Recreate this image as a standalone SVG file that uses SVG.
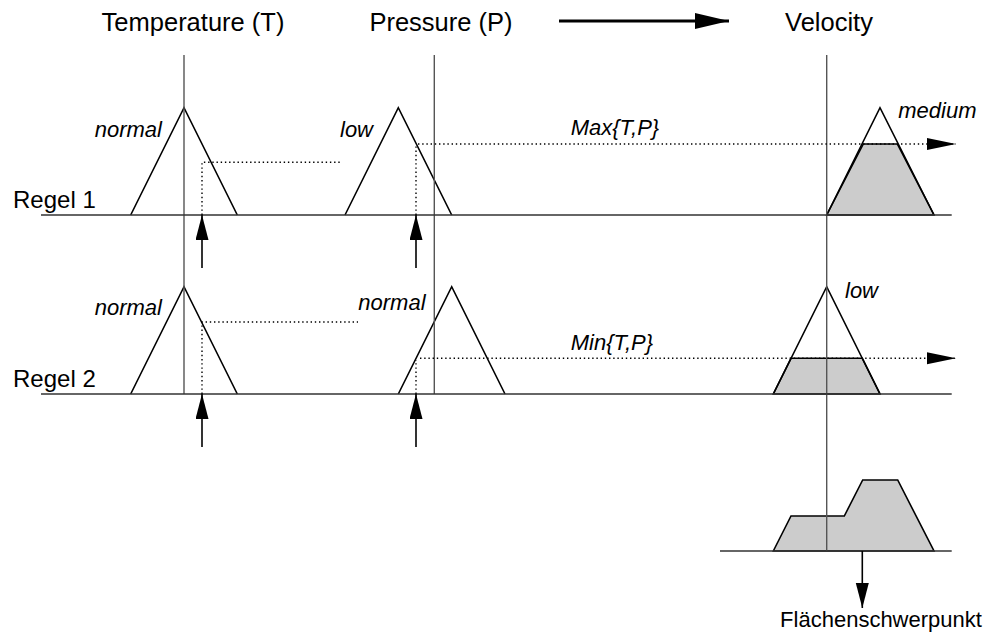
<svg xmlns="http://www.w3.org/2000/svg" width="987" height="635" viewBox="0 0 987 635">
<style>
text{font-family:"Liberation Sans",Arial,Helvetica,sans-serif;fill:#000}
.title{font-size:25.5px;text-anchor:middle}
.rule{font-size:24px}
.lab{font-size:22px;font-style:italic}
.axis{stroke:#555;stroke-width:1.4;fill:none}
.base{stroke:#333;stroke-width:1.3;fill:none}
.tri{stroke:#000;stroke-width:1.6;fill:none;stroke-linejoin:miter}
.fill{fill:#cccccc;stroke:#000;stroke-width:1.6;stroke-linejoin:miter}
.dot{stroke:#000;stroke-width:1.4;stroke-dasharray:1.4 2.8;fill:none}
.arr{stroke:#000;stroke-width:1.6;fill:none}
</style>
<defs>
<marker id="ah" markerUnits="userSpaceOnUse" markerWidth="26" markerHeight="14" refX="25" refY="6.5" orient="auto"><path d="M0,0 L25,6.5 L0,13 z" fill="#000"/></marker>
<marker id="ahd" markerUnits="userSpaceOnUse" markerWidth="30" markerHeight="14" refX="29" refY="6" orient="auto"><path d="M0,0 L29,6 L0,12 z" fill="#000"/></marker>
<marker id="ahb" markerUnits="userSpaceOnUse" markerWidth="35" markerHeight="18" refX="34" refY="8" orient="auto"><path d="M0,0 L34,8 L0,16 z" fill="#000"/></marker>
</defs>

<g id="titles">
<text class="title" x="193" y="31">Temperature (T)</text>
<text class="title" x="441" y="31">Pressure (P)</text>
<text class="title" x="829" y="31">Velocity</text>
<text class="rule" x="13" y="208">Regel 1</text>
<text class="rule" x="13" y="387">Regel 2</text>
<text x="881" y="627" style="font-size:22px;text-anchor:middle">Flächenschwerpunkt</text>
</g>

<g id="rule1-T">
<polyline class="tri" points="130.7,215 184,107.7 237.3,215"/>
<text class="lab" x="162" y="136.7" text-anchor="end">normal</text>
</g>
<g id="rule1-P">
<polyline class="tri" points="345,215 398.3,107.7 451.7,215"/>
<text class="lab" x="340" y="136.7">low</text>
</g>
<g id="rule1-V">
<polygon class="fill" points="826.7,215 863.3,144 897.3,144 934,215"/>
<polyline class="tri" points="826.7,215 880,107.7 934,215"/>
<text class="lab" x="898.3" y="118.3">medium</text>
</g>

<g id="rule2-T">
<polyline class="tri" points="130.7,394 184,286.7 237.3,394"/>
<text class="lab" x="162" y="315" text-anchor="end">normal</text>
</g>
<g id="rule2-P">
<polyline class="tri" points="398.3,394 451.7,286.7 505,394"/>
<text class="lab" x="358.3" y="310">normal</text>
</g>
<g id="rule2-V">
<polygon class="fill" points="773.3,394 791,358.3 862.3,358.3 880,394"/>
<polyline class="tri" points="773.3,394 826.7,286.7 880,394"/>
<text class="lab" x="845" y="298">low</text>
</g>

<g id="aggregate">
<polygon class="fill" points="773.3,551 791,516 844.3,516 862.7,480 897.7,480 934,551"/>
</g>

<g id="axes">
<line class="axis" x1="184" y1="55" x2="184" y2="394"/>
<line class="axis" x1="434.3" y1="55" x2="434.3" y2="394"/>
<line class="axis" x1="826.7" y1="55" x2="826.7" y2="551"/>
<line class="base" x1="41" y1="215" x2="951.7" y2="215"/>
<line class="base" x1="41" y1="394" x2="951.7" y2="394"/>
<line class="base" x1="720" y1="551" x2="951.7" y2="551"/>
</g>

<g id="connectors">
<line x1="559" y1="21" x2="729" y2="21" stroke="#000" stroke-width="3" marker-end="url(#ahb)"/>
<polyline class="dot" points="202,215 202,162.3 340,162.3"/>
<polyline class="dot" points="202,394 202,322 358,322"/>
<line class="dot" x1="416" y1="215" x2="416" y2="146"/>
<line class="dot" x1="418" y1="144" x2="956" y2="144" marker-end="url(#ahd)"/>
<line class="dot" x1="416" y1="394" x2="416" y2="360"/>
<line class="dot" x1="420" y1="358.3" x2="956" y2="358.3" marker-end="url(#ahd)"/>
<line class="arr" x1="202" y1="268" x2="202" y2="215" marker-end="url(#ah)"/>
<line class="arr" x1="416" y1="268" x2="416" y2="215" marker-end="url(#ah)"/>
<line class="arr" x1="202" y1="447" x2="202" y2="394" marker-end="url(#ah)"/>
<line class="arr" x1="416" y1="447" x2="416" y2="394" marker-end="url(#ah)"/>
<line class="arr" x1="862.3" y1="551" x2="862.3" y2="608" marker-end="url(#ah)"/>
<text class="lab" x="570.7" y="135">Max{T,P}</text>
<text class="lab" x="570.7" y="350">Min{T,P}</text>
</g>
</svg>
